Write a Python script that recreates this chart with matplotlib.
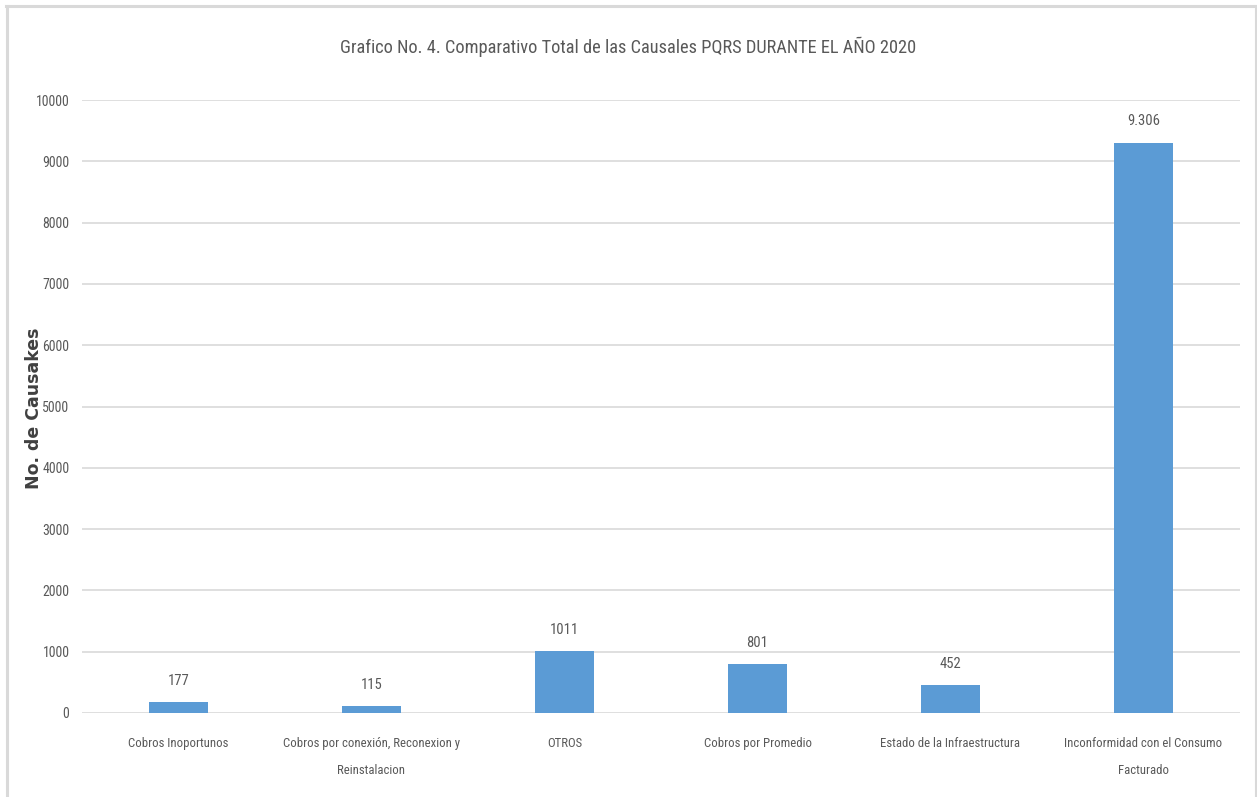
import matplotlib
matplotlib.use("Agg")
import matplotlib.pyplot as plt
from matplotlib.lines import Line2D
from matplotlib import font_manager

categories = [
    "Cobros Inoportunos",
    "Cobros por conexión, Reconexion y\nReinstalacion",
    "OTROS",
    "Cobros por Promedio",
    "Estado de la Infraestructura",
    "Inconformidad con el Consumo\nFacturado",
]
values = [177, 115, 1011, 801, 452, 9306]
value_labels = ["177", "115", "1011", "801", "452", "9.306"]
yticks = [0, 1000, 2000, 3000, 4000, 5000, 6000, 7000, 8000, 9000, 10000]

names = {f.name for f in font_manager.fontManager.ttflist}
prefs = ['Roboto Condensed', 'Open Sans Condensed', 'Noto Sans Condensed',
         'Liberation Sans Narrow', 'Liberation Sans']
main_font = next((p for p in prefs if p in names), 'DejaVu Sans')
plt.rcParams['font.family'] = [main_font, 'DejaVu Sans']

text_color = "#595959"
bar_color = "#5B9BD5"
grid_color = "#D9D9D9"

fig = plt.figure(figsize=(12.57, 7.97), dpi=100)
ax = fig.add_axes([82/1257, 1-713/797, (1240-82)/1257, (713-100)/797])

x = list(range(len(categories)))
ax.bar(x, values, width=0.31, color=bar_color, zorder=3)
ax.set_xlim(-0.5, len(categories) - 0.5)
ax.set_ylim(0, 10000)
ax.set_yticks(yticks)
ax.set_yticklabels([str(t) for t in yticks])
ax.yaxis.grid(True, color=grid_color, linewidth=1.2, zorder=0)
ax.set_axisbelow(True)
for s in ax.spines.values():
    s.set_visible(False)
ax.tick_params(axis='both', length=0, colors=text_color)
ax.tick_params(axis='y', pad=9, labelsize=10)
ax.tick_params(axis='x', pad=17.5, labelsize=9.2)
ax.set_xticks(x)
ax.set_xticklabels(categories, linespacing=2.4, va='top')

for xi, v, lab in zip(x, values, value_labels):
    ax.annotate(lab, (xi, v), xytext=(0, 12.5), textcoords='offset points',
                ha='center', va='baseline', fontsize=10.5, color=text_color)

fig.text(0.5, 1-47/797, "Grafico No. 4. Comparativo Total de las Causales PQRS DURANTE EL AÑO 2020",
         ha='center', va='center', fontsize=13.2, color=text_color)
fig.text(34/1257, 1-408/797, "No. de Causakes", rotation=90, ha='center', va='center',
         fontsize=12.5, fontweight='bold', color="#404040", family=['DejaVu Sans'])

# light frame
for (xs, ys) in [([6/1257, 1256/1257], [1-6/797, 1-6/797]),
                 ([6.5/1257, 6.5/1257], [0, 1-6/797]),
                 ([1255.5/1257, 1255.5/1257], [0, 1-6/797])]:
    fig.add_artist(Line2D(xs, ys, transform=fig.transFigure, color=grid_color, linewidth=2.2))

fig.savefig("out.png", dpi=100)
